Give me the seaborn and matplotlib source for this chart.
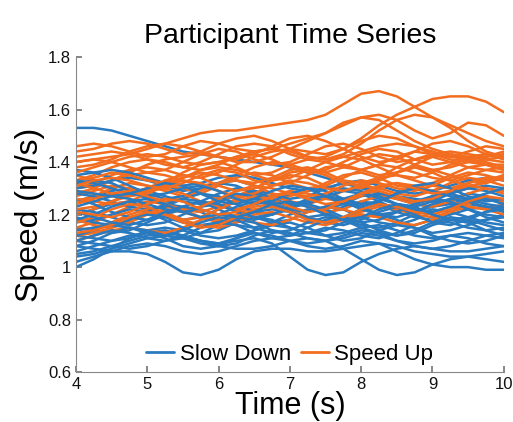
import numpy as np
import pandas as pd
import matplotlib
matplotlib.use("Agg")
import matplotlib.pyplot as plt
from matplotlib.lines import Line2D
import seaborn as sns

# sample times (s)
time_s = [4.0, 4.25, 4.5, 4.75, 5.0, 5.25, 5.5, 5.75, 6.0, 6.25, 6.5, 6.75, 7.0,
          7.25, 7.5, 7.75, 8.0, 8.25, 8.5, 8.75, 9.0, 9.25, 9.5, 9.75, 10.0]

# speed (m/s) per participant
slow_down = [
    [1.53, 1.53, 1.52, 1.50, 1.48, 1.46, 1.44, 1.43, 1.42, 1.41, 1.40, 1.39, 1.38, 1.36, 1.34, 1.32, 1.30, 1.28, 1.27, 1.26, 1.25, 1.24, 1.24, 1.23, 1.22],
    [1.08, 1.07, 1.06, 1.06, 1.05, 1.02, 0.98, 0.97, 0.99, 1.03, 1.06, 1.07, 1.07, 1.06, 1.06, 1.07, 1.08, 1.09, 1.08, 1.06, 1.05, 1.04, 1.04, 1.05, 1.06],
    [1.12, 1.11, 1.10, 1.11, 1.13, 1.14, 1.12, 1.10, 1.09, 1.10, 1.11, 1.09, 1.04, 0.99, 0.97, 0.98, 1.02, 1.05, 1.07, 1.08, 1.07, 1.06, 1.06, 1.07, 1.08],
    [1.10, 1.09, 1.08, 1.07, 1.08, 1.10, 1.11, 1.10, 1.08, 1.07, 1.07, 1.08, 1.10, 1.11, 1.10, 1.07, 1.03, 0.99, 0.97, 0.98, 1.01, 1.03, 1.04, 1.03, 1.02],
    [1.02, 1.04, 1.06, 1.08, 1.09, 1.08, 1.06, 1.05, 1.06, 1.08, 1.10, 1.11, 1.10, 1.08, 1.07, 1.08, 1.10, 1.09, 1.06, 1.03, 1.01, 1.00, 1.00, 0.99, 0.99],
    [1.00, 1.03, 1.07, 1.11, 1.14, 1.15, 1.14, 1.12, 1.11, 1.12, 1.14, 1.16, 1.15, 1.13, 1.12, 1.13, 1.15, 1.16, 1.14, 1.12, 1.11, 1.12, 1.13, 1.12, 1.11],
    [1.05, 1.06, 1.08, 1.10, 1.12, 1.13, 1.12, 1.10, 1.09, 1.11, 1.14, 1.16, 1.17, 1.15, 1.12, 1.10, 1.11, 1.14, 1.16, 1.15, 1.12, 1.10, 1.09, 1.10, 1.12],
    [1.15, 1.14, 1.13, 1.14, 1.17, 1.20, 1.22, 1.21, 1.18, 1.16, 1.15, 1.17, 1.20, 1.22, 1.21, 1.18, 1.16, 1.15, 1.17, 1.20, 1.22, 1.21, 1.19, 1.17, 1.16],
    [1.20, 1.22, 1.24, 1.25, 1.23, 1.20, 1.18, 1.19, 1.22, 1.25, 1.26, 1.24, 1.21, 1.19, 1.20, 1.23, 1.25, 1.24, 1.21, 1.19, 1.18, 1.20, 1.22, 1.23, 1.21],
    [1.25, 1.27, 1.29, 1.30, 1.29, 1.27, 1.25, 1.24, 1.25, 1.27, 1.29, 1.28, 1.25, 1.23, 1.22, 1.24, 1.27, 1.28, 1.26, 1.24, 1.23, 1.24, 1.26, 1.27, 1.25],
    [1.30, 1.31, 1.33, 1.34, 1.33, 1.31, 1.29, 1.30, 1.32, 1.33, 1.31, 1.28, 1.26, 1.27, 1.30, 1.32, 1.31, 1.28, 1.26, 1.25, 1.27, 1.29, 1.30, 1.29, 1.27],
    [1.35, 1.36, 1.37, 1.36, 1.34, 1.32, 1.31, 1.32, 1.34, 1.35, 1.34, 1.32, 1.30, 1.29, 1.30, 1.32, 1.33, 1.31, 1.29, 1.28, 1.29, 1.31, 1.33, 1.34, 1.33],
    [1.37, 1.36, 1.34, 1.31, 1.28, 1.26, 1.27, 1.30, 1.32, 1.31, 1.28, 1.25, 1.23, 1.24, 1.27, 1.29, 1.28, 1.25, 1.22, 1.21, 1.23, 1.26, 1.28, 1.27, 1.24],
    [1.22, 1.21, 1.19, 1.17, 1.16, 1.17, 1.20, 1.23, 1.24, 1.22, 1.19, 1.17, 1.18, 1.21, 1.23, 1.22, 1.19, 1.17, 1.16, 1.18, 1.21, 1.23, 1.22, 1.19, 1.17],
    [1.17, 1.18, 1.20, 1.22, 1.21, 1.18, 1.15, 1.13, 1.14, 1.17, 1.19, 1.18, 1.15, 1.13, 1.14, 1.17, 1.19, 1.20, 1.18, 1.15, 1.13, 1.14, 1.16, 1.18, 1.19],
    [1.12, 1.14, 1.17, 1.19, 1.20, 1.19, 1.17, 1.16, 1.17, 1.19, 1.21, 1.22, 1.21, 1.19, 1.17, 1.16, 1.18, 1.21, 1.23, 1.22, 1.20, 1.18, 1.17, 1.18, 1.20],
    [1.28, 1.27, 1.25, 1.23, 1.22, 1.23, 1.26, 1.28, 1.27, 1.24, 1.21, 1.20, 1.22, 1.25, 1.27, 1.26, 1.23, 1.20, 1.19, 1.21, 1.24, 1.26, 1.25, 1.23, 1.22],
    [1.08, 1.10, 1.13, 1.15, 1.14, 1.12, 1.11, 1.13, 1.16, 1.18, 1.17, 1.14, 1.12, 1.13, 1.15, 1.14, 1.12, 1.11, 1.13, 1.16, 1.18, 1.17, 1.15, 1.14, 1.15],
    [1.32, 1.33, 1.32, 1.29, 1.26, 1.24, 1.23, 1.25, 1.28, 1.30, 1.29, 1.26, 1.24, 1.25, 1.28, 1.30, 1.29, 1.26, 1.24, 1.23, 1.25, 1.28, 1.30, 1.31, 1.30],
    [1.19, 1.17, 1.16, 1.18, 1.21, 1.24, 1.26, 1.25, 1.22, 1.19, 1.18, 1.20, 1.23, 1.24, 1.22, 1.19, 1.17, 1.18, 1.21, 1.24, 1.26, 1.25, 1.22, 1.20, 1.19],
    [1.04, 1.05, 1.07, 1.09, 1.11, 1.12, 1.11, 1.09, 1.08, 1.09, 1.12, 1.14, 1.13, 1.11, 1.10, 1.11, 1.13, 1.12, 1.10, 1.09, 1.10, 1.12, 1.11, 1.09, 1.08],
    [1.26, 1.24, 1.21, 1.19, 1.18, 1.20, 1.23, 1.25, 1.24, 1.21, 1.19, 1.20, 1.23, 1.26, 1.27, 1.25, 1.22, 1.20, 1.21, 1.24, 1.27, 1.28, 1.26, 1.24, 1.23],
    [1.14, 1.15, 1.16, 1.15, 1.13, 1.12, 1.14, 1.17, 1.19, 1.18, 1.15, 1.13, 1.14, 1.17, 1.19, 1.18, 1.15, 1.13, 1.12, 1.14, 1.17, 1.19, 1.18, 1.16, 1.14],
    [1.23, 1.25, 1.27, 1.26, 1.24, 1.22, 1.21, 1.23, 1.26, 1.28, 1.27, 1.24, 1.22, 1.21, 1.23, 1.26, 1.28, 1.27, 1.24, 1.22, 1.21, 1.23, 1.25, 1.26, 1.24],
    [1.10, 1.12, 1.14, 1.13, 1.11, 1.10, 1.12, 1.15, 1.17, 1.16, 1.13, 1.11, 1.12, 1.15, 1.18, 1.19, 1.17, 1.14, 1.12, 1.13, 1.16, 1.18, 1.17, 1.14, 1.12],
    [1.33, 1.32, 1.30, 1.28, 1.27, 1.28, 1.30, 1.31, 1.29, 1.26, 1.24, 1.25, 1.28, 1.30, 1.29, 1.26, 1.24, 1.25, 1.28, 1.31, 1.32, 1.30, 1.27, 1.25, 1.26],
    [1.18, 1.20, 1.23, 1.25, 1.26, 1.24, 1.21, 1.19, 1.20, 1.23, 1.25, 1.24, 1.21, 1.18, 1.17, 1.19, 1.22, 1.24, 1.23, 1.20, 1.17, 1.16, 1.18, 1.21, 1.22],
    [1.06, 1.08, 1.10, 1.12, 1.13, 1.11, 1.08, 1.07, 1.08, 1.11, 1.13, 1.12, 1.10, 1.09, 1.10, 1.12, 1.14, 1.13, 1.10, 1.08, 1.07, 1.08, 1.10, 1.12, 1.13],
    [1.29, 1.28, 1.27, 1.28, 1.30, 1.32, 1.31, 1.28, 1.25, 1.24, 1.26, 1.29, 1.31, 1.30, 1.27, 1.24, 1.23, 1.25, 1.28, 1.30, 1.29, 1.27, 1.26, 1.28, 1.30],
    [1.21, 1.19, 1.17, 1.16, 1.18, 1.21, 1.23, 1.22, 1.20, 1.19, 1.21, 1.24, 1.25, 1.23, 1.20, 1.18, 1.19, 1.22, 1.24, 1.23, 1.20, 1.18, 1.19, 1.21, 1.23],
]

speed_up = [
    [1.40, 1.41, 1.42, 1.43, 1.45, 1.47, 1.49, 1.51, 1.52, 1.52, 1.53, 1.54, 1.55, 1.56, 1.58, 1.62, 1.66, 1.67, 1.65, 1.61, 1.57, 1.54, 1.51, 1.48, 1.46],
    [1.30, 1.32, 1.35, 1.37, 1.38, 1.37, 1.35, 1.34, 1.36, 1.39, 1.42, 1.44, 1.45, 1.44, 1.43, 1.45, 1.49, 1.54, 1.58, 1.61, 1.64, 1.65, 1.65, 1.63, 1.59],
    [1.46, 1.47, 1.46, 1.44, 1.42, 1.43, 1.46, 1.48, 1.47, 1.45, 1.44, 1.45, 1.47, 1.49, 1.51, 1.54, 1.57, 1.58, 1.56, 1.52, 1.49, 1.51, 1.55, 1.54, 1.50],
    [1.33, 1.35, 1.38, 1.40, 1.41, 1.40, 1.38, 1.37, 1.39, 1.42, 1.44, 1.45, 1.44, 1.42, 1.41, 1.43, 1.47, 1.52, 1.56, 1.58, 1.57, 1.53, 1.48, 1.44, 1.42],
    [1.28, 1.30, 1.33, 1.36, 1.39, 1.41, 1.42, 1.43, 1.42, 1.40, 1.40, 1.42, 1.45, 1.48, 1.51, 1.55, 1.57, 1.56, 1.52, 1.48, 1.45, 1.43, 1.42, 1.41, 1.42],
    [1.44, 1.45, 1.47, 1.48, 1.47, 1.45, 1.43, 1.44, 1.47, 1.49, 1.50, 1.48, 1.45, 1.42, 1.41, 1.42, 1.44, 1.46, 1.47, 1.46, 1.44, 1.42, 1.41, 1.42, 1.44],
    [1.38, 1.39, 1.41, 1.44, 1.46, 1.47, 1.46, 1.44, 1.42, 1.41, 1.43, 1.46, 1.49, 1.50, 1.48, 1.45, 1.42, 1.40, 1.41, 1.44, 1.47, 1.48, 1.46, 1.43, 1.42],
    [1.30, 1.31, 1.33, 1.35, 1.36, 1.35, 1.33, 1.31, 1.32, 1.35, 1.38, 1.40, 1.39, 1.37, 1.36, 1.38, 1.41, 1.43, 1.42, 1.39, 1.37, 1.38, 1.40, 1.41, 1.40],
    [1.35, 1.33, 1.30, 1.28, 1.29, 1.32, 1.36, 1.39, 1.40, 1.38, 1.35, 1.33, 1.34, 1.37, 1.40, 1.42, 1.41, 1.38, 1.35, 1.34, 1.36, 1.39, 1.41, 1.40, 1.38],
    [1.25, 1.27, 1.30, 1.32, 1.31, 1.29, 1.27, 1.28, 1.31, 1.34, 1.36, 1.35, 1.32, 1.30, 1.31, 1.34, 1.37, 1.39, 1.38, 1.36, 1.34, 1.33, 1.35, 1.37, 1.36],
    [1.20, 1.22, 1.25, 1.28, 1.30, 1.31, 1.30, 1.28, 1.26, 1.27, 1.30, 1.33, 1.35, 1.34, 1.31, 1.29, 1.30, 1.33, 1.36, 1.38, 1.37, 1.35, 1.33, 1.32, 1.34],
    [1.15, 1.17, 1.20, 1.23, 1.25, 1.24, 1.22, 1.21, 1.23, 1.26, 1.28, 1.27, 1.25, 1.24, 1.26, 1.29, 1.31, 1.30, 1.28, 1.27, 1.29, 1.32, 1.34, 1.33, 1.31],
    [1.12, 1.13, 1.15, 1.18, 1.21, 1.23, 1.22, 1.19, 1.17, 1.18, 1.21, 1.24, 1.25, 1.23, 1.21, 1.22, 1.25, 1.27, 1.26, 1.24, 1.23, 1.25, 1.28, 1.30, 1.29],
    [1.10, 1.12, 1.14, 1.15, 1.14, 1.13, 1.15, 1.18, 1.20, 1.19, 1.17, 1.16, 1.18, 1.21, 1.23, 1.22, 1.20, 1.19, 1.21, 1.24, 1.26, 1.25, 1.23, 1.22, 1.24],
    [1.18, 1.16, 1.15, 1.17, 1.20, 1.22, 1.21, 1.19, 1.18, 1.20, 1.23, 1.24, 1.22, 1.19, 1.17, 1.18, 1.21, 1.23, 1.22, 1.20, 1.19, 1.21, 1.24, 1.26, 1.25],
    [1.27, 1.29, 1.31, 1.30, 1.27, 1.25, 1.26, 1.29, 1.32, 1.33, 1.31, 1.28, 1.27, 1.29, 1.32, 1.35, 1.36, 1.34, 1.31, 1.30, 1.32, 1.35, 1.38, 1.39, 1.37],
    [1.32, 1.30, 1.28, 1.27, 1.28, 1.31, 1.34, 1.36, 1.35, 1.33, 1.32, 1.34, 1.37, 1.38, 1.36, 1.33, 1.32, 1.34, 1.38, 1.41, 1.42, 1.40, 1.38, 1.37, 1.38],
    [1.22, 1.23, 1.25, 1.27, 1.29, 1.30, 1.28, 1.25, 1.23, 1.22, 1.24, 1.27, 1.29, 1.28, 1.26, 1.25, 1.27, 1.30, 1.32, 1.31, 1.29, 1.28, 1.30, 1.33, 1.35],
    [1.14, 1.15, 1.17, 1.20, 1.22, 1.21, 1.18, 1.16, 1.15, 1.17, 1.20, 1.21, 1.19, 1.17, 1.16, 1.18, 1.20, 1.19, 1.17, 1.16, 1.18, 1.21, 1.23, 1.22, 1.20],
    [1.40, 1.41, 1.40, 1.38, 1.36, 1.37, 1.40, 1.43, 1.45, 1.44, 1.41, 1.39, 1.40, 1.43, 1.46, 1.47, 1.45, 1.42, 1.40, 1.41, 1.43, 1.44, 1.43, 1.42, 1.43],
    [1.33, 1.34, 1.36, 1.35, 1.33, 1.32, 1.34, 1.37, 1.38, 1.37, 1.35, 1.36, 1.39, 1.41, 1.40, 1.38, 1.37, 1.39, 1.42, 1.44, 1.43, 1.41, 1.40, 1.39, 1.37],
    [1.26, 1.25, 1.24, 1.25, 1.28, 1.31, 1.33, 1.32, 1.29, 1.27, 1.28, 1.31, 1.33, 1.32, 1.30, 1.29, 1.31, 1.34, 1.35, 1.33, 1.31, 1.30, 1.32, 1.34, 1.33],
    [1.36, 1.38, 1.40, 1.42, 1.43, 1.42, 1.40, 1.39, 1.40, 1.42, 1.43, 1.41, 1.38, 1.36, 1.37, 1.40, 1.43, 1.45, 1.44, 1.41, 1.39, 1.40, 1.42, 1.43, 1.41],
    [1.29, 1.28, 1.27, 1.28, 1.30, 1.33, 1.35, 1.34, 1.31, 1.29, 1.30, 1.33, 1.36, 1.37, 1.35, 1.32, 1.31, 1.33, 1.36, 1.38, 1.36, 1.33, 1.31, 1.32, 1.35],
    [1.17, 1.19, 1.22, 1.24, 1.23, 1.20, 1.18, 1.19, 1.22, 1.25, 1.27, 1.26, 1.23, 1.21, 1.22, 1.25, 1.28, 1.29, 1.27, 1.25, 1.26, 1.29, 1.31, 1.30, 1.28],
    [1.24, 1.26, 1.28, 1.29, 1.27, 1.24, 1.22, 1.23, 1.26, 1.29, 1.31, 1.30, 1.28, 1.27, 1.28, 1.31, 1.33, 1.32, 1.30, 1.29, 1.31, 1.34, 1.36, 1.35, 1.33],
    [1.42, 1.43, 1.44, 1.43, 1.41, 1.39, 1.38, 1.40, 1.43, 1.46, 1.47, 1.46, 1.43, 1.41, 1.42, 1.45, 1.48, 1.50, 1.49, 1.46, 1.43, 1.42, 1.44, 1.46, 1.45],
    [1.13, 1.14, 1.16, 1.19, 1.21, 1.20, 1.17, 1.15, 1.16, 1.19, 1.22, 1.23, 1.21, 1.18, 1.17, 1.19, 1.22, 1.24, 1.23, 1.21, 1.20, 1.22, 1.25, 1.27, 1.26],
    [1.31, 1.33, 1.34, 1.33, 1.31, 1.30, 1.32, 1.35, 1.37, 1.36, 1.33, 1.31, 1.32, 1.35, 1.38, 1.39, 1.37, 1.35, 1.36, 1.39, 1.42, 1.43, 1.41, 1.39, 1.39],
    [1.21, 1.20, 1.19, 1.21, 1.24, 1.26, 1.25, 1.22, 1.20, 1.21, 1.24, 1.27, 1.28, 1.26, 1.24, 1.25, 1.28, 1.31, 1.32, 1.30, 1.28, 1.29, 1.32, 1.34, 1.34],
]

group_names = ["Slow Down", "Speed Up"]
colors = {"Slow Down": "#2a7abf", "Speed Up": "#f26d1f"}

rows = []
pid = 0
for name, series in zip(group_names, [slow_down, speed_up]):
    for vals in series:
        for t, v in zip(time_s, vals):
            rows.append({"participant": pid, "group": name, "time": t, "speed": v})
        pid += 1
df = pd.DataFrame(rows)

sns.set_theme(style="white")
plt.rcParams["font.family"] = ["Liberation Sans", "DejaVu Sans"]
plt.rcParams["text.color"] = "black"
plt.rcParams["axes.labelcolor"] = "black"

fig = plt.figure(figsize=(5.13, 4.22), dpi=100)
ax = fig.add_axes([0.148, 0.118, 0.834, 0.747])

# interleave the two groups so neither sits fully on top
n = len(slow_down)
order = []
for i in range(n):
    order.append(i)
    order.append(n + i)
for p in order:
    sub = df[df["participant"] == p]
    sns.lineplot(data=sub, x="time", y="speed", color=colors[sub["group"].iloc[0]],
                 lw=1.8, ax=ax, legend=False, estimator=None, sort=True)

ax.set_xlim(4, 10)
ax.set_ylim(0.6, 1.8)
ax.set_xticks([4, 5, 6, 7, 8, 9, 10])
ax.set_yticks([0.6, 0.8, 1.0, 1.2, 1.4, 1.6, 1.8])
ax.set_yticklabels(["0.6", "0.8", "1", "1.2", "1.4", "1.6", "1.8"])
ax.tick_params(direction="in", length=4, labelsize=12, left=True, bottom=True,
               color="#777777", labelcolor="#111111")
for side in ["top", "right"]:
    ax.spines[side].set_visible(False)
for side in ["left", "bottom"]:
    ax.spines[side].set_color("#888888")
    ax.spines[side].set_linewidth(0.8)

ax.set_title("Participant Time Series", fontsize=20.5, pad=10)
ax.set_xlabel("Time (s)", fontsize=22, labelpad=-1)
ax.set_ylabel("Speed (m/s)", fontsize=23, labelpad=2)

handles = [Line2D([0], [0], color=colors[g], lw=2) for g in group_names]
ax.legend(handles, group_names, loc="lower center", bbox_to_anchor=(0.5, -0.04),
          ncol=2, frameon=False, fontsize=16, handlelength=1.25, handletextpad=0.25,
          columnspacing=0.45)

fig.savefig("out.png", dpi=100)
